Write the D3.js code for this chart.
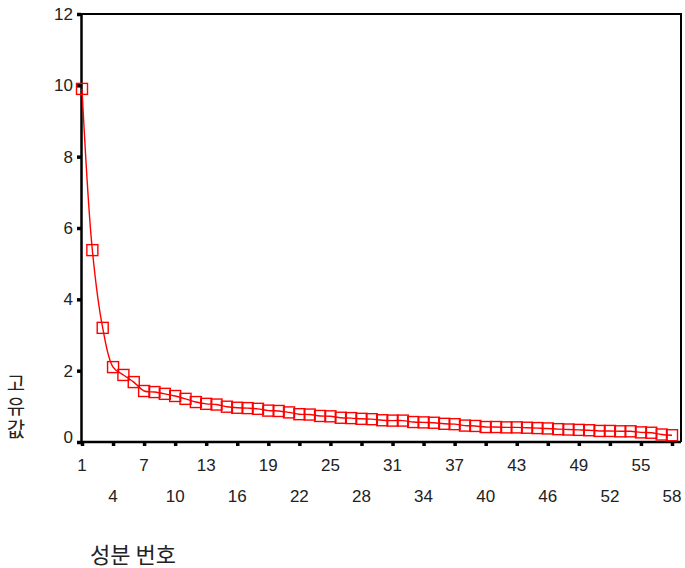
<!DOCTYPE html>
<html>
<head>
<meta charset="utf-8">
<script src="https://cdn.jsdelivr.net/npm/d3@7"></script>
<style>
  body { margin: 0; background: #fff; }
  svg { display: block; font-family: "Liberation Sans", Arial, sans-serif; }
</style>
</head>
<body>
<svg id="chart" width="685" height="568"></svg>
<script>
// component numbers 1..58 and the eigenvalue read for each
const components = d3.range(1, 59);
const eigenvalues = [
    9.90, 5.38, 3.20, 2.10, 1.88, 1.68, 1.43, 1.40, 1.35, 1.29,
    1.21, 1.12, 1.07, 1.05, 0.99, 0.96, 0.95, 0.93, 0.88, 0.87,
    0.83, 0.78, 0.77, 0.73, 0.72, 0.68, 0.67, 0.65, 0.64, 0.61,
    0.60, 0.60, 0.56, 0.55, 0.54, 0.51, 0.50, 0.46, 0.45, 0.42,
    0.42, 0.41, 0.41, 0.40, 0.39, 0.38, 0.36, 0.35, 0.34, 0.33,
    0.31, 0.31, 0.30, 0.30, 0.27, 0.26, 0.21, 0.19
];
const yTicks = [0, 2, 4, 6, 8, 10, 12];
const xTickRow1 = [1, 7, 13, 19, 25, 31, 37, 43, 49, 55];
const xTickRow2 = [4, 10, 16, 22, 28, 34, 40, 46, 52, 58];
const xTitle = '성분 번호';
const yTitle = '고유값';

const data = components.map((c, i) => ({ c, v: eigenvalues[i] }));

const plotLeft = 81, plotRight = 681, plotTop = 14, plotBottom = 442;
const svg = d3.select('#chart');

const x = d3.scaleLinear().domain([1, 58]).range([plotLeft + 1, plotRight - 9]);
const y = d3.scaleLinear().domain([0, 12]).range([plotBottom, plotTop]);

// frame (top and right)
svg.append('path')
    .attr('d', `M${plotLeft},${plotTop}H${plotRight}V${plotBottom}`)
    .attr('fill', 'none')
    .attr('stroke', '#000')
    .attr('stroke-width', 2);

// y axis
const yAxis = svg.append('g')
    .attr('transform', `translate(${plotLeft},0)`)
    .call(d3.axisLeft(y).tickValues(yTicks).tickSize(4).tickPadding(4));
yAxis.select('.domain').attr('stroke-width', 2.5);
yAxis.selectAll('.tick line').attr('stroke-width', 3.5);
yAxis.selectAll('.tick text').attr('font-size', 17).attr('fill', '#222');
yAxis.selectAll('.tick text').filter(d => d === 0).attr('dy', '0.0em');

// x axis: tick marks every 3 components
const xAxis = svg.append('g')
    .attr('transform', `translate(0,${plotBottom})`)
    .call(d3.axisBottom(x).tickValues(components.filter(c => (c - 1) % 3 === 0)).tickSize(4).tickFormat(''));
xAxis.select('.domain').attr('d', `M${plotLeft},0H${plotRight}`).attr('stroke-width', 2.5);
xAxis.selectAll('.tick line').attr('stroke-width', 3.5);

svg.append('g').selectAll('text')
    .data(xTickRow1)
    .join('text')
    .attr('x', d => x(d))
    .attr('y', 471)
    .attr('text-anchor', 'middle')
    .attr('font-size', 17)
    .attr('fill', '#222')
    .text(d => d);

svg.append('g').selectAll('text')
    .data(xTickRow2)
    .join('text')
    .attr('x', d => x(d))
    .attr('y', 502)
    .attr('text-anchor', 'middle')
    .attr('font-size', 17)
    .attr('fill', '#222')
    .text(d => d);

// scree line
const line = d3.line()
    .x(d => x(d.c))
    .y(d => y(d.v))
    .curve(d3.curveCatmullRom.alpha(0.5));

svg.append('path')
    .datum(data)
    .attr('d', line)
    .attr('fill', 'none')
    .attr('stroke', '#ff0000')
    .attr('stroke-width', 1.4);

const sq = 11;
svg.append('g').selectAll('rect')
    .data(data)
    .join('rect')
    .attr('x', d => x(d.c) - sq / 2)
    .attr('y', d => y(d.v) - sq / 2)
    .attr('width', sq)
    .attr('height', sq)
    .attr('fill', 'none')
    .attr('stroke', '#ff0000')
    .attr('stroke-width', 1.4);

// titles
svg.append('text')
    .attr('x', 90)
    .attr('y', 563)
    .attr('font-size', 22)
    .attr('font-family', '"Noto Sans CJK KR", sans-serif')
    .attr('fill', '#222')
    .text(xTitle);

// y title: upright characters stacked top to bottom
svg.append('text')
    .attr('x', 16)
    .attr('y', 373)
    .attr('font-size', 20)
    .attr('font-family', '"Noto Sans CJK KR", sans-serif')
    .attr('fill', '#222')
    .style('writing-mode', 'vertical-rl')
    .style('text-orientation', 'upright')
    .style('letter-spacing', '3px')
    .text(yTitle);
</script>
</body>
</html>
